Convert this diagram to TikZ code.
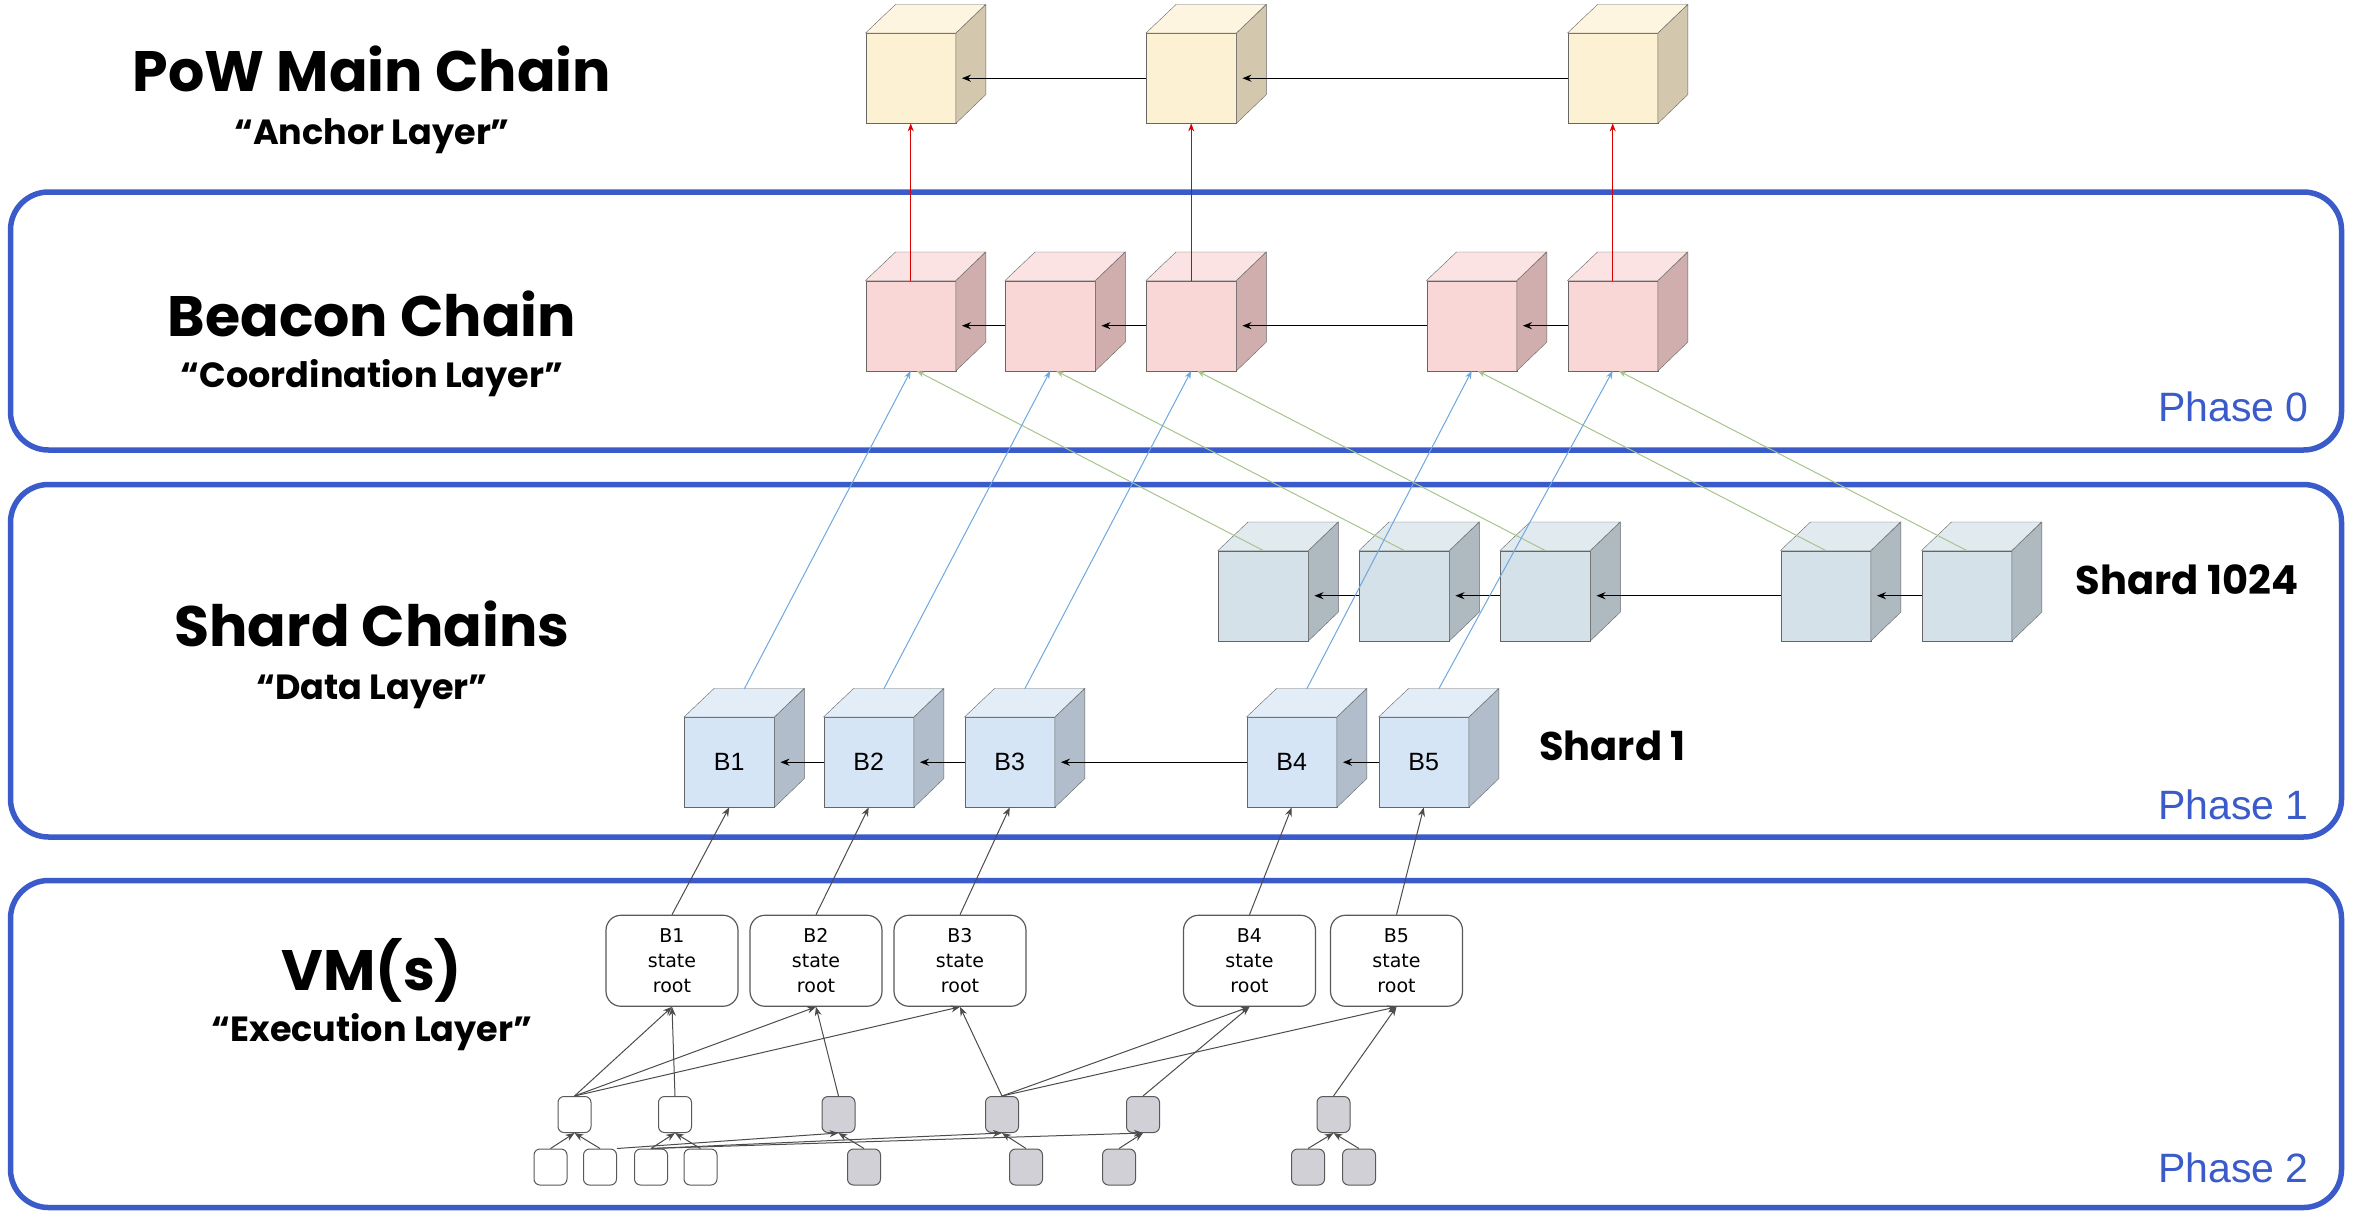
\documentclass[tikz,border=0pt]{standalone}
\usepackage{fontspec}
\setmainfont{Liberation Sans}
\newfontfamily\pop{Poppins}
\newfontfamily\dej{DejaVu Sans}
\usetikzlibrary{calc,arrows.meta}
\definecolor{lay}{HTML}{3A5BC9}
\definecolor{powf}{HTML}{FCF1D2}\definecolor{pows}{HTML}{D3C8AE}
\definecolor{bef}{HTML}{F8D7D6}\definecolor{bes}{HTML}{CFAEAD}
\definecolor{shf}{HTML}{D4E1E8}\definecolor{shs}{HTML}{AEB9C0}
\definecolor{s1f}{HTML}{D5E5F5}\definecolor{s1s}{HTML}{B1BDCA}
\definecolor{gfill}{HTML}{D0D0D6}
\definecolor{gline}{HTML}{A8C48E}
\definecolor{bline}{HTML}{6FA8E0}
\newcommand\mkcube[6]{%
 \node[draw=gray!80!black,fill=#4,minimum width=90pt,minimum height=90pt,inner sep=0,anchor=north west,font=\fontsize{25}{28}\selectfont] (#1) at (#2,#3) {#6};
 \fill[#5,draw=gray!80!black] (#1.north east) -- ++(30pt,28.5pt) -- ++(0,-90pt) -- ($(#1.south east)$) -- cycle;
 \fill[#4!70!white,draw=gray!80!black] (#1.north west) -- ++(30pt,28.5pt) -- ++(90pt,0) -- (#1.north east) -- cycle;}
\tikzset{
 layer/.style={draw=lay,line width=5.5pt,rounded corners=38pt},
 phase/.style={text=lay,font=\fontsize{41}{44}\selectfont,anchor=base},
 title/.style={font=\pop\bfseries\fontsize{57}{60}\selectfont,anchor=base},
 sub/.style={font=\pop\bfseries\fontsize{35}{40}\selectfont,anchor=base},
 shl/.style={font=\pop\bfseries\fontsize{40}{42}\selectfont,anchor=base},
 harr/.style={draw=gray!70!black,line width=1.2pt,-{Stealth[length=9pt,width=7pt]},black},
 red/.style={draw=red!85!black,line width=1pt,-{Stealth[length=8pt,width=6pt]}},
 blu/.style={draw=bline,line width=1pt,-{Stealth[length=8pt,width=6pt]}},
 grn/.style={draw=gline,line width=1pt,-{Stealth[length=8pt,width=6pt]}},
 sr/.style={draw=gray!70!black,line width=1.2pt,rounded corners=15pt,minimum width=132pt,minimum height=91pt,align=center,font=\dej\fontsize{19}{25}\selectfont,inner sep=0},
 sm/.style={draw=gray!70!black,line width=1pt,rounded corners=6pt,minimum width=33pt,minimum height=36pt,inner sep=0},
 smg/.style={sm,fill=gfill},
 ga/.style={draw=gray!60!black,line width=1pt,-{Stealth[length=9pt,width=7pt]}},
}
\begin{document}
\begin{tikzpicture}[x=1.5pt,y=-1.5pt]
\useasboundingbox[fill=white] (0,0) rectangle (1568.67,813.33);
% layers
\draw[layer] (7,128) rectangle (1561,300);
\draw[layer] (7,323) rectangle (1561,558);
\draw[layer] (7,587) rectangle (1561,805);
\node[phase] (p0) at (1489,281) {Phase 0};
\node[phase] (p1) at (1489,546) {Phase 1};
\node[phase] (p2) at (1489,788) {Phase 2};
% titles
\node[title] (t1) at (248,61) {PoW Main Chain};
\node[sub] (s1) at (248,96) {“Anchor Layer”};
\node[title] (t2) at (248,224) {Beacon Chain};
\node[sub] (s2) at (248,258) {“Coordination Layer”};
\node[title] (t3) at (248,431) {Shard Chains};
\node[sub] (s3) at (248,466) {“Data Layer”};
\node[title] (t4) at (248,660) {VM(s)};
\node[sub] (s4) at (248,694) {“Execution Layer”};
\node[shl] (l1024) at (1458,396) {Shard 1024};
\node[shl] (l1) at (1075,507) {Shard 1};
% cubes
\mkcube{w1}{577}{22}{powf}{pows}{}
\mkcube{w2}{764}{22}{powf}{pows}{}
\mkcube{w3}{1045}{22}{powf}{pows}{}
\mkcube{e1}{577}{187}{bef}{bes}{}
\mkcube{e2}{670}{187}{bef}{bes}{}
\mkcube{e3}{764}{187}{bef}{bes}{}
\mkcube{e4}{951}{187}{bef}{bes}{}
\mkcube{e5}{1045}{187}{bef}{bes}{}
\mkcube{k1}{812}{367}{shf}{shs}{}
\mkcube{k2}{906}{367}{shf}{shs}{}
\mkcube{k3}{1000}{367}{shf}{shs}{}
\mkcube{k4}{1187}{367}{shf}{shs}{}
\mkcube{k5}{1281}{367}{shf}{shs}{}
\mkcube{b1}{456}{478}{s1f}{s1s}{B1}
\mkcube{b2}{549}{478}{s1f}{s1s}{B2}
\mkcube{b3}{643}{478}{s1f}{s1s}{B3}
\mkcube{b4}{831}{478}{s1f}{s1s}{B4}
\mkcube{b5}{919}{478}{s1f}{s1s}{B5}
% horizontal chain arrows
\foreach \a/\b in {w2/w1,w3/w2,e2/e1,e3/e2,e4/e3,e5/e4,k2/k1,k3/k2,k4/k3,k5/k4,b2/b1,b3/b2,b4/b3,b5/b4}
  \draw[harr] (\a.west) -- ($(\b.east)+(6pt,0)$);
% red
\draw[red] (e1.north) -- (w1.south);
\draw[red] (e3.north) -- (w2.south);
\draw[red] (e5.north) -- (w3.south);
% green
\foreach \k/\e in {k1/e1,k2/e2,k3/e3,k4/e4,k5/e5}
  \draw[grn] (\k.north) -- ($(\e.south)+(6pt,0)$);
% blue
\foreach \b/\e in {b1/e1,b2/e2,b3/e3,b4/e4,b5/e5}
  \draw[blu] ($(\b.north)+(15pt,28pt)$) -- (\e.south);
% state roots
\node[sr] (r1) at (448,640.5) {B1\\state\\root};
\node[sr] (r2) at (544,640.5) {B2\\state\\root};
\node[sr] (r3) at (640,640.5) {B3\\state\\root};
\node[sr] (r4) at (833,640.5) {B4\\state\\root};
\node[sr] (r5) at (931,640.5) {B5\\state\\root};
\foreach \r/\b in {r1/b1,r2/b2,r3/b3,r4/b4,r5/b5}
  \draw[ga] (\r.north) -- (\b.south);
% small nodes
\node[sm] (a1) at (383,743) {};
\node[sm] (a2) at (450,743) {};
\node[smg] (a3) at (559,743) {};
\node[smg] (a4) at (668,743) {};
\node[smg] (a5) at (762,743) {};
\node[smg] (a6) at (889,743) {};
\node[sm] (c1) at (367,778) {};
\node[sm] (c2) at (400,778) {};
\node[sm] (c3) at (434,778) {};
\node[sm] (c4) at (467,778) {};
\node[smg] (c5) at (576,778) {};
\node[smg] (c6) at (684,778) {};
\node[smg] (c7) at (746,778) {};
\node[smg] (c8) at (872,778) {};
\node[smg] (c9) at (906,778) {};
\foreach \s/\r in {a1/r1,a1/r2,a1/r3,a2/r1,a3/r2,a4/r3,a4/r4,a4/r5,a5/r4,a6/r5}
  \draw[ga] (\s.north) -- (\r.south);
\foreach \s/\t in {c1/a1,c2/a1,c3/a2,c4/a2,c5/a3,c6/a4,c7/a5,c8/a6,c9/a6}
  \draw[ga] (\s.north) -- (\t.south);
\draw[ga] (c2.north east) -- (a3.south);
\draw[ga] (c3.north) -- (a4.south);
\draw[ga] (c3.north) -- (a5.south);
\end{tikzpicture}
\end{document}
